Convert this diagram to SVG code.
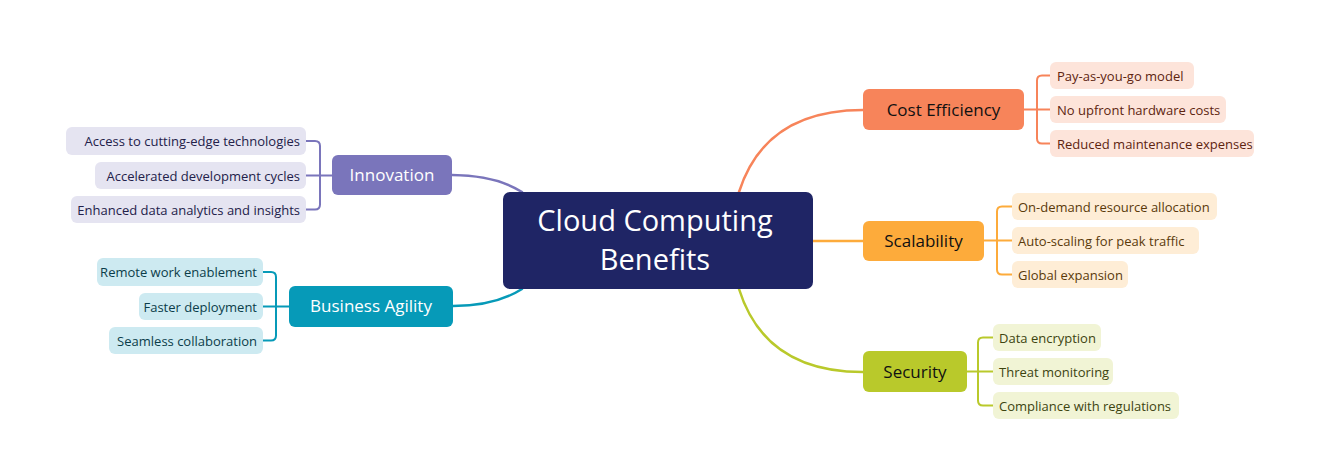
<svg xmlns="http://www.w3.org/2000/svg" width="1322" height="471" viewBox="0 0 1322 471">
<style>
.main{font-family:"Open Sans","Noto Sans","Liberation Sans",sans-serif;font-size:17px;text-anchor:middle}
.sub{font-family:"Open Sans","Noto Sans","Liberation Sans",sans-serif;font-size:13px}
.c{fill:none;stroke-width:2.5;stroke-linecap:round}
.b{fill:none;stroke-width:2}
</style>
<rect width="1322" height="471" fill="#ffffff"/>
<g id="connectors">
<path class="c" stroke="#f7845a" d="M739 192 Q765 110 863 110"/>
<path class="c" stroke="#fdab3b" d="M813 241 H863"/>
<path class="c" stroke="#b9c92b" d="M739 289 Q765 372 863 372"/>
<path class="c" stroke="#7a75bb" d="M452 175 Q495 175 522 192"/>
<path class="c" stroke="#069ab8" d="M453 306 Q495 306 522 289"/>
<path class="b" stroke="#f7845a" d="M1024 109.5 H1050 M1050 75.5 H1042 Q1037 75.5 1037 80.5 V138.5 Q1037 143.5 1042 143.5 H1050"/>
<path class="b" stroke="#fdab3b" d="M984 240.5 H1012 M1012 206.5 H1002 Q997 206.5 997 211.5 V269.5 Q997 274.5 1002 274.5 H1012"/>
<path class="b" stroke="#b9c92b" d="M967 371.5 H993 M993 337.5 H983 Q978 337.5 978 342.5 V400.5 Q978 405.5 983 405.5 H993"/>
<path class="b" stroke="#7a75bb" d="M332 175.5 H306 M306 141 H315 Q320 141 320 146 V204.5 Q320 209.5 315 209.5 H306"/>
<path class="b" stroke="#069ab8" d="M289 306.5 H263 M263 272 H271 Q276 272 276 277 V335.5 Q276 340.5 271 340.5 H263"/>
</g>
<g id="center">
<rect x="503" y="192" width="310" height="97" rx="7" fill="#1f2565"/>
<text x="655" y="231" font-family="'Open Sans',Lato,'Liberation Sans',sans-serif" font-size="29" fill="#ffffff" text-anchor="middle">Cloud Computing</text>
<text x="655" y="270" font-family="'Open Sans',Lato,'Liberation Sans',sans-serif" font-size="29" fill="#ffffff" text-anchor="middle">Benefits</text>
</g>
<g id="cost-efficiency">
<rect x="863" y="89" width="161" height="41" rx="6" fill="#f7845a"/>
<text class="main" x="943.5" y="116" fill="#111111">Cost Efficiency</text>
</g>
<g id="cost-1"><rect x="1050" y="62" width="144" height="27" rx="6" fill="#fde4da"/><text class="sub" x="1057" y="80.5" fill="#5e2410">Pay-as-you-go model</text></g>
<g id="cost-2"><rect x="1050" y="96" width="176" height="27" rx="6" fill="#fde4da"/><text class="sub" x="1057" y="114.5" fill="#5e2410">No upfront hardware costs</text></g>
<g id="cost-3"><rect x="1050" y="130" width="204" height="27" rx="6" fill="#fde4da"/><text class="sub" x="1057" y="148.5" fill="#5e2410">Reduced maintenance expenses</text></g>
<g id="scalability">
<rect x="863" y="221" width="121" height="40" rx="6" fill="#fdab3b"/>
<text class="main" x="923.5" y="247" fill="#111111">Scalability</text>
</g>
<g id="scal-1"><rect x="1012" y="193" width="205" height="27" rx="6" fill="#feedd6"/><text class="sub" x="1018" y="211.5" fill="#5a3a0a">On-demand resource allocation</text></g>
<g id="scal-2"><rect x="1012" y="227" width="187" height="27" rx="6" fill="#feedd6"/><text class="sub" x="1018" y="245.5" fill="#5a3a0a">Auto-scaling for peak traffic</text></g>
<g id="scal-3"><rect x="1012" y="261" width="116" height="27" rx="6" fill="#feedd6"/><text class="sub" x="1018" y="279.5" fill="#5a3a0a">Global expansion</text></g>
<g id="security">
<rect x="863" y="351" width="104" height="41" rx="6" fill="#b9c92b"/>
<text class="main" x="915" y="378" fill="#111111">Security</text>
</g>
<g id="sec-1"><rect x="993" y="324" width="108" height="27" rx="6" fill="#f1f4d5"/><text class="sub" x="999" y="342.5" fill="#3d4410">Data encryption</text></g>
<g id="sec-2"><rect x="993" y="358" width="120" height="27" rx="6" fill="#f1f4d5"/><text class="sub" x="999" y="376.5" fill="#3d4410">Threat monitoring</text></g>
<g id="sec-3"><rect x="993" y="392" width="186" height="27" rx="6" fill="#f1f4d5"/><text class="sub" x="999" y="410.5" fill="#3d4410">Compliance with regulations</text></g>
<g id="innovation">
<rect x="332" y="155" width="120" height="40" rx="6" fill="#7a75bb"/>
<text class="main" x="392" y="181" fill="#ffffff">Innovation</text>
</g>
<g id="inn-1"><rect x="66" y="127" width="240" height="28" rx="6" fill="#e5e4f1"/><text class="sub" x="300" y="146" text-anchor="end" fill="#23214a">Access to cutting-edge technologies</text></g>
<g id="inn-2"><rect x="95" y="162" width="211" height="27" rx="6" fill="#e5e4f1"/><text class="sub" x="300" y="180.5" text-anchor="end" fill="#23214a">Accelerated development cycles</text></g>
<g id="inn-3"><rect x="71" y="196" width="235" height="27" rx="6" fill="#e5e4f1"/><text class="sub" x="300" y="214.5" text-anchor="end" fill="#23214a">Enhanced data analytics and insights</text></g>
<g id="business-agility">
<rect x="289" y="286" width="164" height="41" rx="6" fill="#069ab8"/>
<text class="main" x="371" y="312" fill="#ffffff">Business Agility</text>
</g>
<g id="ag-1"><rect x="97" y="258" width="166" height="28" rx="6" fill="#cdeaf1"/><text class="sub" x="257" y="277" text-anchor="end" fill="#0b3d4a">Remote work enablement</text></g>
<g id="ag-2"><rect x="139" y="293" width="124" height="27" rx="6" fill="#cdeaf1"/><text class="sub" x="257" y="311.5" text-anchor="end" fill="#0b3d4a">Faster deployment</text></g>
<g id="ag-3"><rect x="109" y="327" width="154" height="27" rx="6" fill="#cdeaf1"/><text class="sub" x="257" y="345.5" text-anchor="end" fill="#0b3d4a">Seamless collaboration</text></g>
</svg>
